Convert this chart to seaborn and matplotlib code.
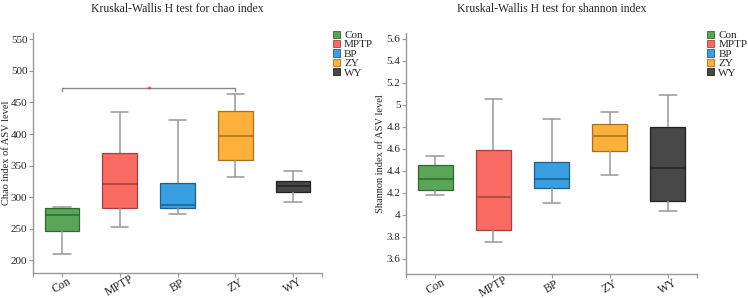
import matplotlib
matplotlib.use("Agg")
import matplotlib.pyplot as plt
import seaborn as sns
import pandas as pd
import numpy as np
from matplotlib.patches import Patch

groups = ["Con", "MPTP", "BP", "ZY", "WY"]
colors = ["#5ba55b", "#f86a62", "#3a9fe0", "#fdb03a", "#474747"]
edges = ["#2f6a2f", "#a8403b", "#1f5f8f", "#a8701e", "#222222"]

# five-number summaries: min, Q1, median, Q3, max
chao = {
    "Con": [209.5, 247, 271.6, 283, 285],
    "MPTP": [253, 283, 321.5, 370, 434.5],
    "BP": [274, 283, 288, 322, 422],
    "ZY": [332, 359, 397.5, 436, 463],
    "WY": [293, 309, 318, 326, 341],
}
shannon = {
    "Con": [4.18, 4.22, 4.327, 4.448, 4.536],
    "MPTP": [3.755, 3.857, 4.16, 4.587, 5.048],
    "BP": [4.109, 4.245, 4.324, 4.48, 4.873],
    "ZY": [4.357, 4.575, 4.718, 4.824, 4.936],
    "WY": [4.036, 4.12, 4.427, 4.796, 5.09],
}
chao_ticks = [200, 250, 300, 350, 400, 450, 500, 550]
shannon_ticks = [3.6, 3.8, 4.0, 4.2, 4.4, 4.6, 4.8, 5.0, 5.2, 5.4, 5.6]
shannon_labels = ["3.6", "3.8", "4", "4.2", "4.4", "4.6", "4.8", "5", "5.2", "5.4", "5.6"]

sns.set_style("white")
plt.rcParams["font.family"] = ["Liberation Serif", "DejaVu Serif"]

fig = plt.figure(figsize=(7.48, 2.98), dpi=100)
W, H = 748, 298

def make_ax(x0, x1, y0, y1):
    return fig.add_axes([x0 / W, 1 - y1 / H, (x1 - x0) / W, (y1 - y0) / H])

ax1 = make_ax(33, 322, 33, 273)
ax2 = make_ax(406, 697, 33, 274)

def draw(ax, d, ylim, ticks, labels, ylabel, title, ylab_x, leg_x):
    df = pd.DataFrame([(g, v) for g in groups for v in d[g]], columns=["group", "value"])
    sns.boxplot(data=df, x="group", y="value", hue="group", order=groups,
                hue_order=groups, palette=colors, whis=(0, 100), width=0.6,
                saturation=1, linewidth=1.1, linecolor="#999999", dodge=False,
                legend=False, ax=ax)
    for i, p in enumerate(ax.patches[:5]):
        p.set_edgecolor(edges[i])
        p.set_linewidth(0.9)
    lines = ax.lines
    per = len(lines) // 5
    for i in range(5):
        grp = lines[i * per:(i + 1) * per]
        for ln in grp:
            ln.set_color("#999999")
            ln.set_linewidth(1.1)
        grp[4].set_color(edges[i])
        grp[4].set_linewidth(1.1)
    ax.set_xlim(-0.5, 4.5)
    ax.set_ylim(*ylim)
    ax.set_yticks(ticks)
    ax.set_yticklabels(labels, fontsize=8)
    ax.set_xticks(range(5))
    ax.set_xticklabels(groups, rotation=30, ha="center", va="center",
                       rotation_mode="anchor", fontsize=8.5)
    ax.tick_params(axis="x", which="major", pad=6)
    ax.set_xticks([-0.5, 4.5], minor=True)
    ax.set_xlabel("")
    ax.set_ylabel(ylabel, fontsize=7.5)
    ax.yaxis.set_label_coords(ylab_x, 0.5)
    ax.set_title(title, fontsize=8.5, pad=15)
    for s in ["top", "right"]:
        ax.spines[s].set_visible(False)
    for s in ["left", "bottom"]:
        ax.spines[s].set_color("#999999")
        ax.spines[s].set_linewidth(1.0)
    ax.tick_params(axis="both", which="both", direction="out", length=3, width=0.8,
                   color="#999999", left=True, bottom=True)
    ax.tick_params(axis="y", pad=1)
    handles = [Patch(facecolor=c, edgecolor=e, linewidth=0.6, label=g)
               for g, c, e in zip(groups, colors, edges)]
    ax.legend(handles=handles, loc="upper left", bbox_to_anchor=(leg_x, 1.01),
              frameon=False, fontsize=8, handlelength=0.6, handleheight=0.6,
              handletextpad=0.4, labelspacing=0.0, borderpad=0, borderaxespad=0)

draw(ax1, chao, (180, 560), chao_ticks, [str(t) for t in chao_ticks],
     "Chao index of ASV level", "Kruskal-Wallis H test for chao index", -0.077, 1.038)
draw(ax2, shannon, (3.46, 5.65), shannon_ticks, shannon_labels,
     "Shannon index of ASV level", "Kruskal-Wallis H test for shannon index", -0.072, 1.035)

# significance bracket between Con and ZY
yb = 472.7
ax1.plot([0, 0, 3, 3], [yb - 5, yb, yb, yb - 5], color="#888888", lw=1.0)
ax1.text(1.5, yb - 2, "*", color="#e03030", ha="center", va="center", fontsize=7)

fig.savefig("out.png", dpi=100)
